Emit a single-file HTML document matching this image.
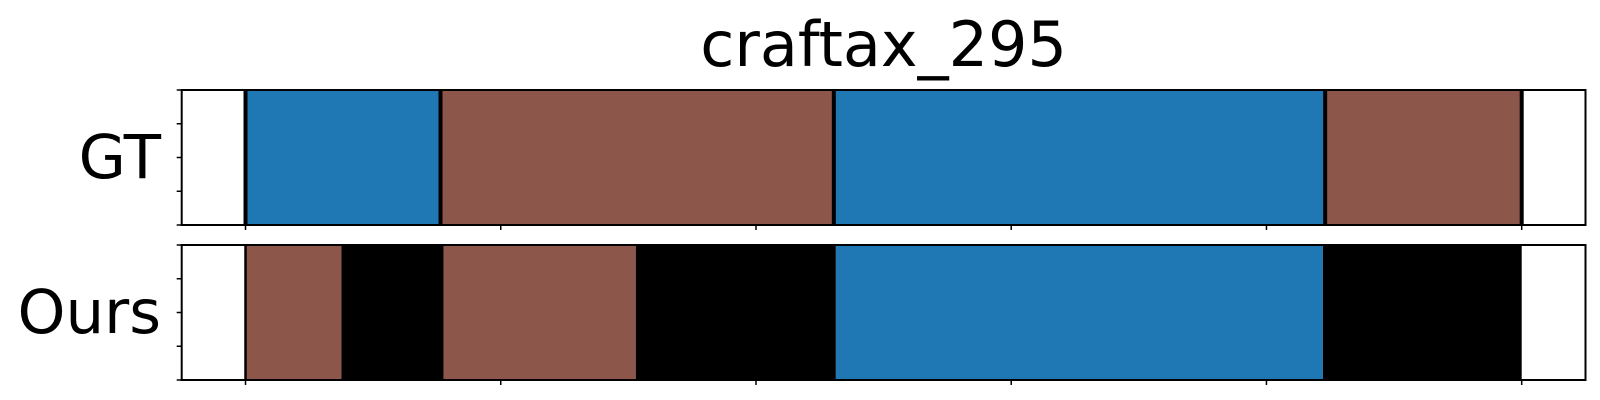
<!DOCTYPE html>
<html><head><meta charset="utf-8"><style>
html,body{margin:0;padding:0;background:#fff;}
svg{display:block;font-family:"DejaVu Sans","Liberation Sans",sans-serif;}
</style></head><body>
<svg id="chart" width="1600" height="400" xmlns="http://www.w3.org/2000/svg">
<text x="883.6" y="66" font-size="62" text-anchor="middle">craftax_295</text>
<g id="plots"></g>
</svg>
<script>
const gtStarts = [0, 76.4, 230.5, 423];
const gtEnds = [76.4, 230.5, 423, 500];
const gtLabels = ["blue", "brown", "blue", "brown"];
const oursStarts = [0, 37.6, 77.6, 152.9, 231.3, 422.1];
const oursEnds = [37.6, 77.6, 152.9, 231.3, 422.1, 500];
const oursLabels = ["brown", "black", "brown", "black", "blue", "black"];
const xTicks = [0, 100, 200, 300, 400, 500];
const yTicks = [0, 0.25, 0.5, 0.75, 1];
const rowNames = ["GT", "Ours"];

const colors = {blue: "#1f77b4", brown: "#8c564b", black: "#000000"};
const NS = "http://www.w3.org/2000/svg";
const L = 181.7, R = 1585.5, xmin = -25, xmax = 525;
const xs = v => L + (v - xmin) / (xmax - xmin) * (R - L);
const panels = [
  {top: 90, bottom: 225, starts: gtStarts, ends: gtEnds, labels: gtLabels, sep: true, name: rowNames[0], baseline: 178},
  {top: 245, bottom: 380, starts: oursStarts, ends: oursEnds, labels: oursLabels, sep: false, name: rowNames[1], baseline: 333}
];
const g = document.getElementById("plots");
function mk(tag, attrs) {
  const e = document.createElementNS(NS, tag);
  for (const k in attrs) e.setAttribute(k, attrs[k]);
  return e;
}
panels.forEach((p, pi) => {
  const ys = v => p.bottom - v * (p.bottom - p.top);
  const pg = mk("g", {});
  
  
  g.appendChild(pg);
  p.starts.forEach((s, i) => {
    const r = mk("rect", {x: xs(s), y: p.top, width: xs(p.ends[i]) - xs(s), height: p.bottom - p.top, fill: colors[p.labels[i]]});
    
    
    pg.appendChild(r);
  });
  const bounds = p.sep ? p.starts.concat([p.ends[p.ends.length - 1]]) : [p.starts[0]];
  bounds.forEach(b => {
    const ln = mk("line", {x1: xs(b), x2: xs(b), y1: p.top, y2: p.bottom, stroke: "#000", "stroke-width": p.sep ? 4 : 2.5});
    
    
    pg.appendChild(ln);
  });
  const fr = mk("rect", {x: L, y: p.top, width: R - L, height: p.bottom - p.top, fill: "none", stroke: "#000", "stroke-width": 2});
  
  
  pg.appendChild(fr);
  xTicks.forEach(t => {
    const tk = mk("line", {x1: xs(t), x2: xs(t), y1: p.bottom, y2: p.bottom + 5, stroke: "#000", "stroke-width": 1.5});
    
    
    pg.appendChild(tk);
  });
  yTicks.forEach(t => {
    const tk = mk("line", {x1: L - 5, x2: L, y1: ys(t), y2: ys(t), stroke: "#000", "stroke-width": 1.5});
    
    
    pg.appendChild(tk);
  });
  const lbl = mk("text", {x: 161, y: p.baseline, "font-size": 61, "text-anchor": "end"});
  lbl.textContent = p.name;
  
  
  pg.appendChild(lbl);
});
</script>
</body></html>
